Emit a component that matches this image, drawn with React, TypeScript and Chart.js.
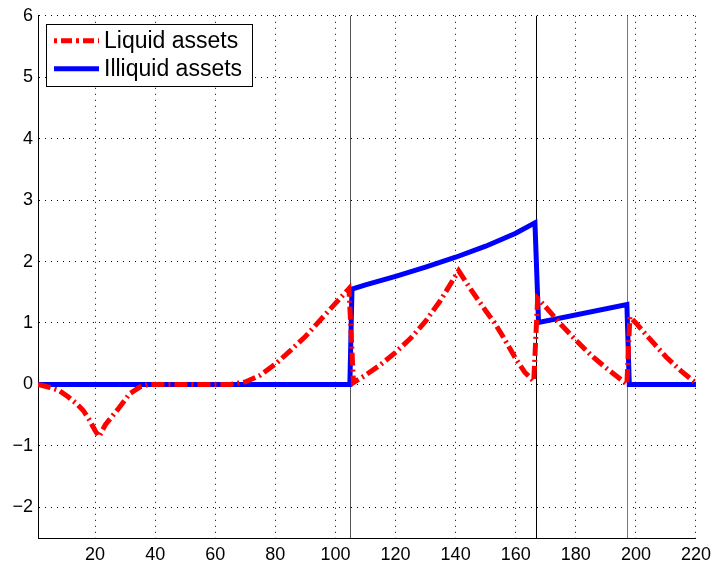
import React, { useEffect, useRef } from "react";
import { Chart, registerables } from "chart.js";

Chart.register(...registerables);

// ---- Data ----
const liquidX = [1, 5, 8, 11, 14, 16, 18, 20, 21.3, 23.5, 26, 28, 31.5, 35, 38, 65, 70, 75, 80, 85, 90, 95, 100, 104.5, 106, 110, 115, 120, 125, 130, 135, 141, 145, 150, 153, 156, 160, 163, 166, 167.3, 170, 175, 180, 185, 190, 195, 197, 198, 200, 205, 210, 215, 220];
const liquidY = [0, -0.05, -0.1, -0.2, -0.32, -0.42, -0.57, -0.75, -0.85, -0.65, -0.5, -0.38, -0.15, -0.04, 0, 0, 0.04, 0.15, 0.33, 0.55, 0.78, 1.05, 1.32, 1.56, 0.03, 0.15, 0.32, 0.52, 0.75, 1.03, 1.37, 1.85, 1.55, 1.2, 1.0, 0.76, 0.42, 0.2, 0.05, 1.4, 1.26, 0.98, 0.72, 0.48, 0.27, 0.08, 0, 1.1, 1.0, 0.72, 0.45, 0.22, 0.02];

const illiquidX = [1, 104.8, 105.5, 110, 120, 130, 140, 150, 160, 166.4, 167.6, 197, 197.8, 220];
const illiquidY = [0, 0, 1.55, 1.62, 1.76, 1.91, 2.07, 2.25, 2.46, 2.63, 1.01, 1.3, 0, 0];

const eventX = [104.8, 166.8, 196.9];
const eventColors = ["#555555", "#000000", "#777777"];

const xTicks = [20, 40, 60, 80, 100, 120, 140, 160, 180, 200, 220];
const yTicks = [-2, -1, 0, 1, 2, 3, 4, 5, 6];

const seriesLabels = ["Liquid assets", "Illiquid assets"];
const seriesColors = ["#ff0000", "#0000ff"];

const FONT = "'Liberation Sans', Arial, Helvetica, sans-serif";
const liquidDash = [13, 4, 2, 4];

const toPoints = (xs: number[], ys: number[]) => xs.map((x, i) => ({ x, y: ys[i] }));

const vlinePlugin = {
  id: "vlines",
  beforeDatasetsDraw(chart: any) {
    const { ctx, chartArea, scales } = chart;
    ctx.save();
    eventX.forEach((v, i) => {
      const px = Math.round(scales.x.getPixelForValue(v)) + 0.5;
      ctx.strokeStyle = eventColors[i];
      ctx.lineWidth = 1;
      ctx.beginPath();
      ctx.moveTo(px, chartArea.top);
      ctx.lineTo(px, chartArea.bottom);
      ctx.stroke();
    });
    ctx.restore();
  },
};

const legendPlugin = {
  id: "boxLegend",
  afterDraw(chart: any) {
    const { ctx, chartArea } = chart;
    const x0 = chartArea.left + 8;
    const y0 = chartArea.top + 8;
    const w = 206;
    const h = 62;
    ctx.save();
    ctx.fillStyle = "#ffffff";
    ctx.fillRect(x0, y0, w, h);
    ctx.strokeStyle = "#000000";
    ctx.lineWidth = 1;
    ctx.strokeRect(Math.round(x0) + 0.5, Math.round(y0) + 0.5, w, h);
    const rows = [y0 + 17, y0 + 45];
    seriesLabels.forEach((lab, i) => {
      const y = rows[i];
      ctx.beginPath();
      ctx.strokeStyle = seriesColors[i];
      ctx.lineWidth = 5;
      ctx.setLineDash(i === 0 ? [3, 4, 11, 4] : []);
      ctx.moveTo(x0 + 8, y);
      ctx.lineTo(x0 + 53, y);
      ctx.stroke();
      ctx.setLineDash([]);
      ctx.fillStyle = "#000000";
      ctx.font = `23px ${FONT}`;
      ctx.textAlign = "left";
      ctx.textBaseline = "middle";
      ctx.fillText(lab, x0 + 58, y + 1);
    });
    ctx.restore();
  },
};

export default function App() {
  const ref = useRef<HTMLCanvasElement | null>(null);
  useEffect(() => {
    if (!ref.current) return;
    const chart = new Chart(ref.current, {
      type: "line",
      data: {
        datasets: [
          {
            label: seriesLabels[0],
            data: toPoints(liquidX, liquidY),
            borderColor: seriesColors[0],
            borderWidth: 5,
            borderDash: liquidDash,
            pointRadius: 0,
            fill: false,
            tension: 0,
          },
          {
            label: seriesLabels[1],
            data: toPoints(illiquidX, illiquidY),
            borderColor: seriesColors[1],
            borderWidth: 5,
            pointRadius: 0,
            fill: false,
            tension: 0,
          },
        ],
      },
      options: {
        animation: false,
        responsive: false,
        devicePixelRatio: 1,
        layout: { padding: { top: 15, right: 18, left: 0, bottom: 0 } },
        plugins: { legend: { display: false }, tooltip: { enabled: false } },
        scales: {
          x: {
            type: "linear",
            min: 1,
            max: 220,
            afterBuildTicks: (s: any) => {
              s.ticks = xTicks.map((v) => ({ value: v }));
            },
            afterFit: (s: any) => {
              s.height = 29;
            },
            grid: { color: "#000000", lineWidth: 1, drawTicks: false },
            border: { display: true, color: "#000000", width: 1, dash: [1, 5] },
            ticks: {
              padding: 6,
              color: "#000000",
              font: { family: FONT, size: 18 },
              maxRotation: 0,
              autoSkip: false,
            },
          },
          y: {
            type: "linear",
            min: -2.5,
            max: 6,
            afterBuildTicks: (s: any) => {
              s.ticks = yTicks.map((v) => ({ value: v }));
            },
            afterFit: (s: any) => {
              s.width = 38;
            },
            grid: { color: "#000000", lineWidth: 1, drawTicks: false },
            border: { display: true, color: "#000000", width: 1, dash: [1, 5] },
            ticks: {
              padding: 5,
              color: "#000000",
              font: { family: FONT, size: 18 },
              autoSkip: false,
              callback: (v: any) => (Number(v) < 0 ? "\u2212" + Math.abs(Number(v)) : String(v)),
            },
          },
        },
      },
      plugins: [vlinePlugin, legendPlugin],
    });
    return () => chart.destroy();
  }, []);
  return (
    <div style={{ position: "fixed", left: 0, top: 0, width: 717, height: 567, background: "#fff" }}>
      <canvas ref={ref} width={717} height={567} style={{ display: "block" }} />
    </div>
  );
}
